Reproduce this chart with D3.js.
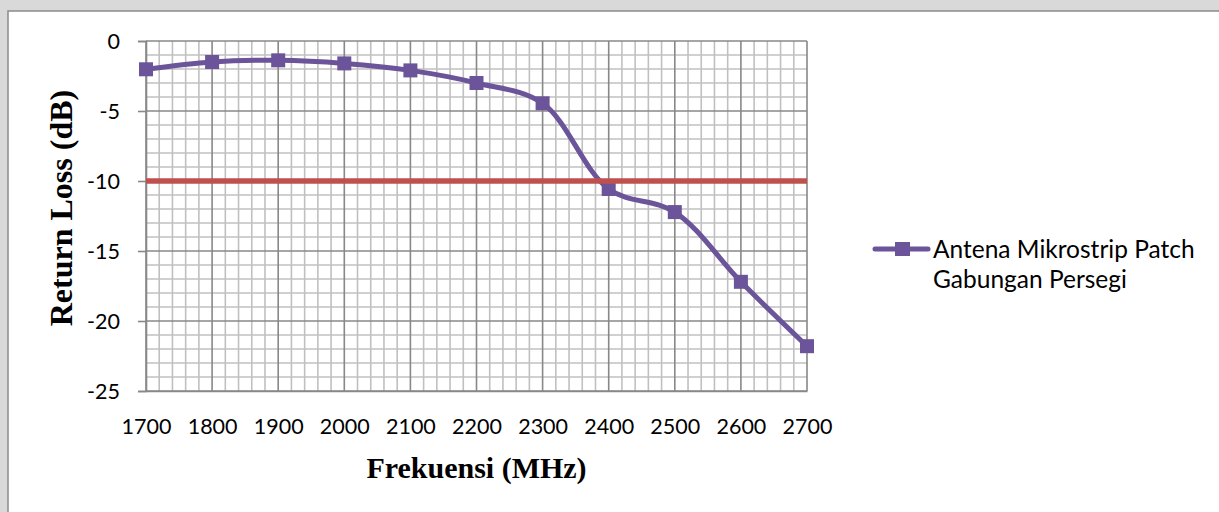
<!DOCTYPE html>
<html>
<head>
<meta charset="utf-8">
<script src="https://cdn.jsdelivr.net/npm/d3@7"></script>
<style>
  html, body { margin: 0; padding: 0; background: #d9d9d9; }
  svg { display: block; }
</style>
</head>
<body>
<svg id="chart" width="1219" height="512"></svg>
<script>
// Measured return loss of the combined square microstrip patch antenna
const frequencies = [1700, 1800, 1900, 2000, 2100, 2200, 2300, 2400, 2500, 2600, 2700];
const returnLoss  = [-2.02, -1.5, -1.38, -1.6, -2.1, -3.0, -4.45, -10.57, -12.22, -17.2, -21.8];
const thresholdDb = -10;
const yTickValues = [0, -5, -10, -15, -20, -25];
const xTickValues = [1700, 1800, 1900, 2000, 2100, 2200, 2300, 2400, 2500, 2600, 2700];
const seriesName = ["Antena Mikrostrip Patch", "Gabungan Persegi"];

const svg = d3.select("#chart");
const W = 1219, H = 512;

// page frame: gray strip with the white chart sheet
svg.append("rect").attr("x", 0).attr("y", 0).attr("width", W).attr("height", H).attr("fill", "#d9d9d9");
svg.append("rect").attr("x", 8).attr("y", 11).attr("width", W).attr("height", H)
  .attr("fill", "#ffffff").attr("stroke", "#8a8a8a").attr("stroke-width", 1.5);

const plot = { left: 146, right: 807, top: 41, bottom: 391 };

const x = d3.scaleLinear().domain([1700, 2700]).range([plot.left, plot.right]);
const y = d3.scaleLinear().domain([-25, 0]).range([plot.bottom, plot.top]);

const g = svg.append("g");

// minor gridlines: every 20 MHz and every 1 dB
const minorX = d3.range(1700, 2700 + 1, 20).filter(v => v % 100 !== 0);
const minorY = d3.range(-25, 0 + 1, 1).filter(v => v % 5 !== 0);
g.selectAll("line.minx").data(minorX).join("line")
  .attr("x1", d => x(d)).attr("x2", d => x(d))
  .attr("y1", plot.top).attr("y2", plot.bottom)
  .attr("stroke", "#c0c0c0").attr("stroke-width", 1.6);
g.selectAll("line.miny").data(minorY).join("line")
  .attr("x1", plot.left).attr("x2", plot.right)
  .attr("y1", d => y(d)).attr("y2", d => y(d))
  .attr("stroke", "#c0c0c0").attr("stroke-width", 1.6);

// major gridlines
g.selectAll("line.majx").data(xTickValues).join("line")
  .attr("x1", d => x(d)).attr("x2", d => x(d))
  .attr("y1", plot.top).attr("y2", plot.bottom)
  .attr("stroke", "#888888").attr("stroke-width", 1.6);
g.selectAll("line.majy").data(yTickValues).join("line")
  .attr("x1", plot.left).attr("x2", plot.right)
  .attr("y1", d => y(d)).attr("y2", d => y(d))
  .attr("stroke", "#888888").attr("stroke-width", 1.6);

// y axis with outward ticks
const yAxis = d3.axisLeft(y).tickValues(yTickValues).tickSize(8).tickPadding(18)
  .tickFormat(d => d === 0 ? "0" : d3.format("d")(d).replace("\u2212", "-"));
const yG = svg.append("g").attr("transform", `translate(${plot.left},0)`).call(yAxis);
yG.select(".domain").attr("stroke", "#888888").attr("stroke-width", 1.6);
yG.selectAll(".tick line").attr("stroke", "#888888").attr("stroke-width", 1.6);
yG.selectAll(".tick text")
  .attr("font-family", "Lato, 'Open Sans', sans-serif").attr("font-size", 21.5)
  .attr("fill", "#000").attr("dy", "0.36em");

// x axis labels only
const xAxis = d3.axisBottom(x).tickValues(xTickValues).tickSize(0).tickPadding(28)
  .tickFormat(d3.format("d"));
const xG = svg.append("g").attr("transform", `translate(0,${plot.bottom})`).call(xAxis);
xG.select(".domain").attr("stroke", "#888888").attr("stroke-width", 1.6);
xG.selectAll(".tick text")
  .attr("font-family", "Lato, 'Open Sans', sans-serif").attr("font-size", 21.5)
  .attr("fill", "#000");

// axis titles
svg.append("text")
  .attr("x", (plot.left + plot.right) / 2).attr("y", 478)
  .attr("text-anchor", "middle")
  .attr("font-family", "'Liberation Serif', 'Times New Roman', serif")
  .attr("font-weight", "bold").attr("font-size", 30)
  .text("Frekuensi (MHz)");
svg.append("text")
  .attr("transform", "translate(72,208) rotate(-90)")
  .attr("text-anchor", "middle")
  .attr("font-family", "'Liberation Serif', 'Times New Roman', serif")
  .attr("font-weight", "bold").attr("font-size", 32)
  .text("Return Loss (dB)");

// series line (smoothed) and square markers
const purple = "#6b5499";
const pts = frequencies.map((f, i) => [f, returnLoss[i]]);
const line = d3.line().x(d => x(d[0])).y(d => y(d[1])).curve(d3.curveCatmullRom.alpha(0.5));
svg.append("path").datum(pts).attr("d", line)
  .attr("fill", "none").attr("stroke", purple).attr("stroke-width", 5)
  .attr("stroke-linejoin", "round").attr("stroke-linecap", "round");
const ms = 14;
svg.selectAll("rect.marker").data(pts).join("rect")
  .attr("x", d => x(d[0]) - ms / 2).attr("y", d => y(d[1]) - ms / 2)
  .attr("width", ms).attr("height", ms).attr("fill", purple);

// -10 dB reference line
svg.append("line")
  .attr("x1", x(1700)).attr("x2", x(2700))
  .attr("y1", y(thresholdDb)).attr("y2", y(thresholdDb))
  .attr("stroke", "#c0504d").attr("stroke-width", 5.5);

// legend
const lg = svg.append("g");
lg.append("line").attr("x1", 875).attr("x2", 928).attr("y1", 249).attr("y2", 249)
  .attr("stroke", purple).attr("stroke-width", 5).attr("stroke-linecap", "round");
lg.append("rect").attr("x", 895).attr("y", 242).attr("width", 15).attr("height", 14).attr("fill", purple);
lg.selectAll("text").data(seriesName).join("text")
  .attr("x", 933).attr("y", (d, i) => 258 + i * 30)
  .attr("font-family", "Lato, 'Open Sans', sans-serif").attr("font-size", 24.5)
  .attr("fill", "#000")
  .text(d => d);
</script>
</body>
</html>
